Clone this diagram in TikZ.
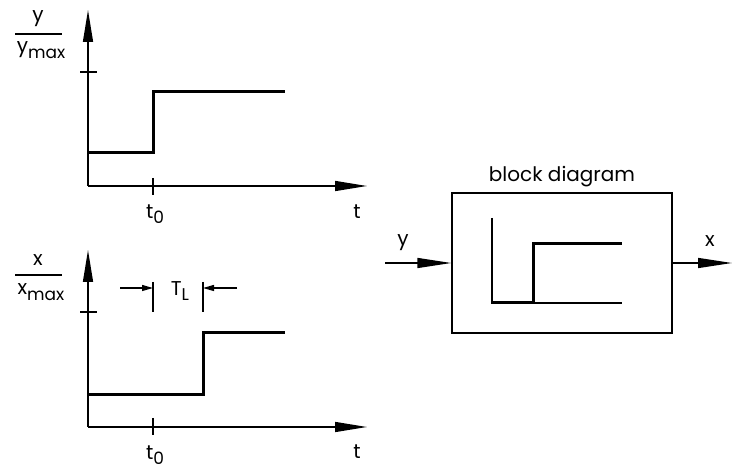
\documentclass[tikz,border=0pt]{standalone}
\usepackage{fontspec}
\setmainfont{Poppins}
\usetikzlibrary{arrows.meta}
\tikzset{
  axis/.style={line width=1.4pt, -{Triangle[length=32pt,width=10pt]}},
  thinline/.style={line width=1.4pt},
  signal/.style={line width=3pt, line join=miter, line cap=butt},
  tick/.style={line width=1.4pt},
  dimarrow/.style={line width=1.3pt, -{Triangle[length=11pt,width=6pt]}},
  flow/.style={line width=1.4pt, -{Triangle[length=34pt,width=10pt]}},
  lbl/.style={inner sep=0pt, font=\fontsize{20}{20}\selectfont},
  blockbox/.style={draw, line width=1.4pt, minimum width=220pt, minimum height=140pt, inner sep=0pt}
}
\newcommand{\lowsub}[2]{#1\raisebox{-0.5ex}{\fontsize{17}{17}\selectfont #2}}
\begin{document}
\begin{tikzpicture}[x=1pt,y=-1pt]
\useasboundingbox (0,0) rectangle (732,473);

% ---- upper plot: input y(t) ----
\coordinate (o1) at (88,186);
\coordinate (ytop) at (88,10);
\coordinate (tend1) at (367,186);
\draw[axis] (o1) -- (ytop);
\draw[axis] (o1) -- (tend1);
\draw[tick] (80,72) -- (97,72);
\draw[tick] (153,178) -- (153,195);
\draw[signal] (88,153) -- (153,153) -- (153,92) -- (285,92);
\node[lbl] (ylab) at (38,19) {y};
\draw[thinline] (15,34) -- (62,34);
\node[lbl] (ymax) at (41,50) {\lowsub{y}{max}};
\node[lbl] (t0a) at (155,214) {\lowsub{t}{0}};
\node[lbl] (ta) at (357,212) {t};

% ---- lower plot: output x(t) ----
\coordinate (o2) at (88,427);
\coordinate (xtop) at (88,250);
\coordinate (tend2) at (367,427);
\draw[axis] (o2) -- (xtop);
\draw[axis] (o2) -- (tend2);
\draw[tick] (80,312) -- (97,312);
\draw[tick] (153,418) -- (153,435);
\draw[signal] (88,395) -- (203,395) -- (203,333) -- (285,333);
\node[lbl] (xlab) at (38,260) {x};
\draw[thinline] (15,275) -- (62,275);
\node[lbl] (xmax) at (41,292) {\lowsub{x}{max}};
\node[lbl] (t0b) at (155,455) {\lowsub{t}{0}};
\node[lbl] (tb) at (357,452) {t};

% dead time dimension
\draw[tick] (153,282) -- (153,312);
\draw[tick] (203,282) -- (203,312);
\coordinate (al) at (120,288);
\coordinate (ar) at (237,288);
\draw[dimarrow] (al) -- (153,288);
\draw[dimarrow] (ar) -- (203,288);
\node[lbl] (TL) at (180,291) {\lowsub{T}{L}};

% ---- block diagram ----
\node[blockbox] (blk) at (562,263) {};
\node[lbl, anchor=south] (title) at (blk.north) [yshift=5pt] {block diagram};
\coordinate (uin) at (385,263);
\coordinate (uout) at (732,263);
\draw[flow] (uin) -- (blk.west);
\draw[flow] (blk.east) -- (uout);
\node[lbl] (yin) at (403,243) {y};
\node[lbl] (xout) at (710,241) {x};
% step response sketch inside the block
\draw[thinline] (492,218) -- (492,303) -- (622,303);
\draw[signal] (492,303) -- (533,303) -- (533,244) -- (622,244);
\end{tikzpicture}
\end{document}
